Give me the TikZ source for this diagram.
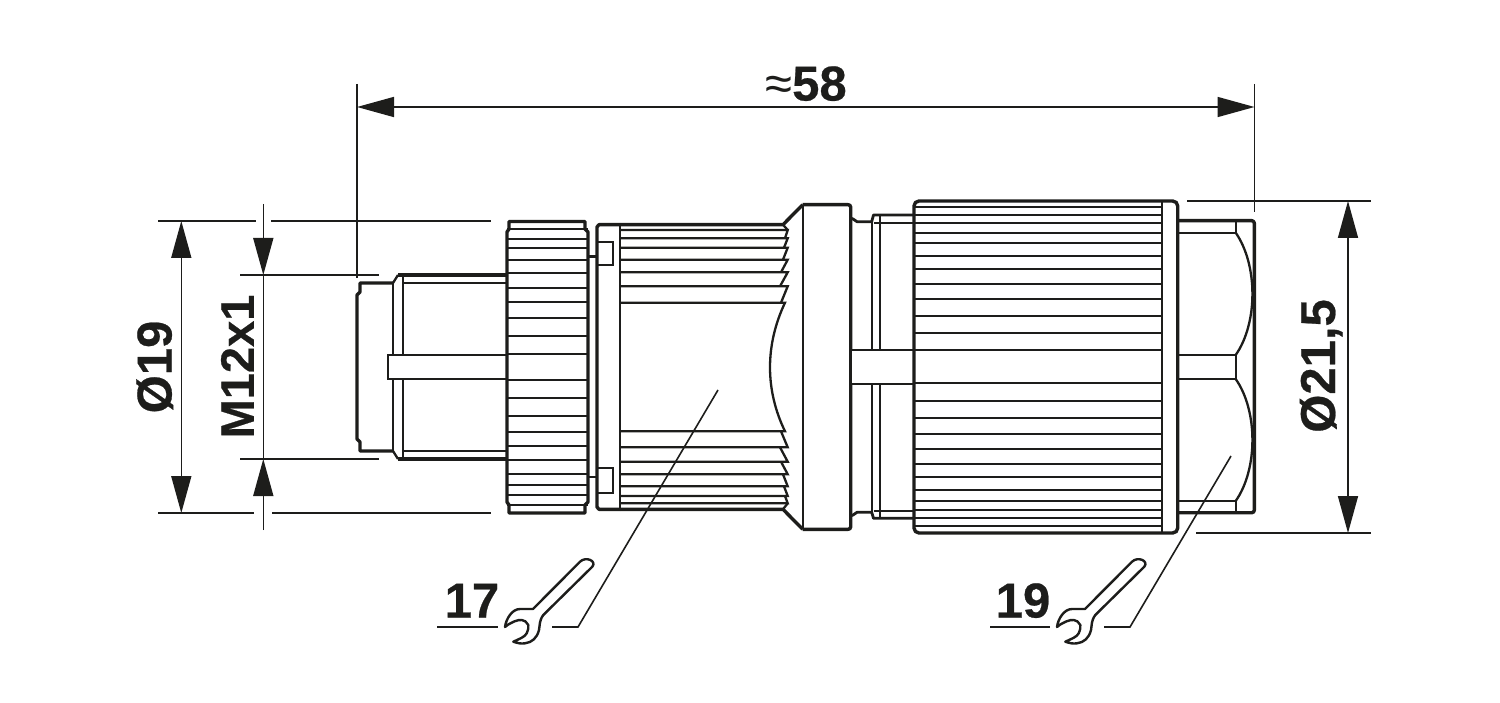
\documentclass[tikz,border=0pt]{standalone}
\usepackage{fontspec}
\setmainfont{Liberation Sans}[BoldFeatures={FakeBold=0.5}]
\usepackage{xcolor}
\usepackage{tikz}
\usetikzlibrary{arrows.meta,calc}
\definecolor{ink}{HTML}{1D1D1B}
\tikzset{
    outline/.style={draw=ink, line width=3.4pt, line join=round},
    ridge/.style={draw=ink, line width=2.3pt},
    dimline/.style={draw=ink, line width=1.6pt},
    dimarrow/.style={dimline, {Triangle[length=37pt,width=20pt,sep=0pt]}-{Triangle[length=37pt,width=20pt,sep=0pt]}},
    endarrow/.style={dimline, -{Triangle[length=37pt,width=20pt,sep=0pt]}},
    dimtext/.style={inner sep=0pt, text=ink, font=\bfseries\fontsize{49}{52}\selectfont, text height=35pt, text depth=0pt},
    wrench/.pic={
        \draw[draw=ink, line width=2.4pt, line join=round]
            (0,0) .. controls (1,-8) and (7,-18) .. (15,-18) -- (28,-18) -- (75,-65.3)
            .. controls (81,-71) and (92,-66) .. (87.3,-60.3) -- (38.3,-12)
            .. controls (34,-6) and (35,-2) .. (34,3)
            .. controls (32,11) and (27,15.5) .. (20,16.3)
            .. controls (16,17) and (12,16) .. (8.3,14.7)
            .. controls (14,12) and (20,10) .. (21.7,6.3)
            .. controls (23,3) and (24,0) .. (23.3,-2)
            .. controls (22,-5) and (19,-7) .. (16.7,-7)
            .. controls (13,-7.5) and (6,-5) .. cycle;
    }
}
\begin{document}
\begin{tikzpicture}[x=1pt, y=-1pt]
    \useasboundingbox (0,0) rectangle (1500,703);

    % plug
    \draw[outline] (398,275) -- (507,275) (398,459) -- (507,459);
    \draw[outline] (393,283) -- (360,283) -- (360,292) -- (357,295) -- (357,439) -- (360,442) -- (360,451) -- (393,451);
    \draw[ridge] (393,283) -- (398,275) (393,451) -- (398,459);
    \draw[ridge] (393,283) -- (393,451) (403,275) -- (403,459);
    \draw[ridge] (403,283) -- (507,283) (403,451) -- (507,451);
    \draw[ridge, fill=white] (507,355) -- (388,355) -- (388,379) -- (507,379);

    % small nut
    \foreach \y in {229,239,248,260,273,288,302,318,336,354,380,398,416,432,446,460,474,485,495,505}
        \draw[ridge] (507,\y) -- (588,\y);
    \draw[outline] (509,229) -- (509,221.5) -- (585,221.5) -- (585,229) -- (588,232) -- (588,502)
        -- (585,505) -- (585,513) -- (509,513) -- (509,505) -- (507,502) -- (507,232) -- cycle;

    % ring with its tabs
    \draw[outline] (620,224.7) -- (599,224.7) -- (597,227) -- (597,507) -- (599,509.3) -- (620,509.3);
    \draw[ridge] (597,241.7) rectangle (612.7,265.3) (597,468) rectangle (612.7,493);
    \draw[outline, line width=2.6pt] (588,256.7) -- (597,256.7) (588,477) -- (597,477);

    % threaded sleeve
    \draw[ridge] (620,224.7) -- (620,509.3);
    \foreach \y/\yb/\xr in {230/238.3/785,238.3/247.7/784,247.7/259.7/783,259.7/272.3/781,272.3/286.3/780,286.3/302.7/781}{
        \draw[ridge] (620,\y) -- (787.7,\y) -- (\xr,\yb);
    }
    \draw[ridge] (620,302.7) -- (785,302.7) .. controls (765,345) and (765,390) .. (785,431.3) -- (620,431.3);
    \foreach \y/\yb/\xr in {431.3/447.3/781,447.3/461.7/780,461.7/474.3/781,474.3/486.3/783,486.3/496/784,496/503.3/785}{
        \draw[ridge] (\xr,\y) -- (787.7,\yb) -- (620,\yb);
    }
    \draw[outline] (620,224.7) -- (783,224.7) -- (802.7,204.7) (620,509.3) -- (783,509.3) -- (802.7,529.3);
    \draw[ridge] (783,224.7) -- (787.7,230) (783,509.3) -- (787.7,503.3);

    % collar
    \draw[outline, rounded corners=2.5pt] (802.7,204.7) -- (850.7,204.7) -- (850.7,529.3) -- (802.7,529.3);
    \draw[ridge] (802.7,204.7) -- (802.7,529.3);

    % neck
    \draw[outline, line width=2.8pt] (850.7,218) -- (853,219) -- (857,221.7) -- (871.7,221.7) -- (873.5,215) -- (914,215);
    \draw[outline, line width=2.8pt] (850.7,516) -- (853,515) -- (857,512.3) -- (871.7,512.3) -- (873.5,518.3) -- (914,518.3);
    \draw[ridge] (871.7,221.7) -- (871.7,512.3) (880,215) -- (880,518.3);
    \draw[ridge] (873.5,223.3) -- (914,223.3) (873.5,510.7) -- (914,510.7);
    \fill[white] (851.5,350) rectangle (914,384);
    \draw[ridge] (850.7,350) -- (914,350) (850.7,384) -- (914,384);

    % big nut
    \foreach \y in {206.7,215.3,223.3,232.7,243.3,256,269.3,284.3,299.3,316,332.7,350,383.3,401,417.7,434,449.3,464,477.3,490,501,510,518.3,526}
        \draw[ridge] (914,\y) -- (1161.7,\y);
    \draw[outline, rounded corners=5pt] (914,201) rectangle (1177.7,533);
    \draw[ridge] (1161.7,201) -- (1161.7,533);

    % hexagon
    \draw[outline, rounded corners=2.5pt] (1177.7,220.7) -- (1254.3,220.7) -- (1254.3,512.7) -- (1177.7,512.7);
    \draw[ridge] (1177.7,232.7) -- (1235.7,232.7) -- (1235.7,220.7);
    \draw[ridge] (1177.7,355) -- (1235.7,355) -- (1235.7,379) -- (1177.7,379);
    \draw[ridge] (1177.7,501) -- (1235.7,501) -- (1235.7,512.7);
    \draw[ridge] (1235.7,232.7) .. controls (1258,265) and (1258,323) .. (1235.7,355);
    \draw[ridge] (1235.7,379) .. controls (1258,411) and (1258,469) .. (1235.7,501);

    % length dimension
    \coordinate (lenL) at (357,107);
    \coordinate (lenR) at (1254.5,107);
    \draw[dimline] (357,84) -- (357,278) (1254.5,84) -- (1254.5,212);
    \draw[dimarrow] (lenL) -- (lenR);
    \node[dimtext] (lenText) at (806,83) {{\mdseries ≈}58};

    % diameter 21,5
    \coordinate (bigT) at (1348,201);
    \coordinate (bigB) at (1348,533);
    \draw[dimline] (1187,201) -- (1371,201) (1196,533) -- (1371,533);
    \draw[dimarrow] (bigT) -- (bigB);
    \node[dimtext, rotate=90] (bigText) at (1317.5,366) {Ø21,5};

    % diameter 19
    \coordinate (nutT) at (181.3,221);
    \coordinate (nutB) at (181.3,513);
    \draw[dimline] (158,221) -- (256,221) (271,221) -- (491,221) (158,513) -- (254,513) (272,513) -- (491,513);
    \draw[dimarrow] (nutT) -- (nutB);
    \node[dimtext, rotate=90] (nutText) at (154,367) {Ø19};

    % thread
    \coordinate (thrT) at (263.3,275);
    \coordinate (thrB) at (263.3,459);
    \coordinate (thrA) at (263.3,204);
    \coordinate (thrZ) at (263.3,530);
    \draw[dimline] (240,275) -- (379,275) (240,459) -- (379,459);
    \draw[dimline] (thrT) -- (thrB);
    \draw[endarrow] (thrA) -- (thrT);
    \draw[endarrow] (thrZ) -- (thrB);
    \node[dimtext, rotate=90, font=\bfseries\fontsize{47}{50}\selectfont] (thrText) at (236.3,366.5) {M12x1};

    % wrench sizes
    \coordinate (sleeveEnd) at (718,390);
    \coordinate (sleeveBend) at (578,627);
    \coordinate (sleeveTail) at (552,627);
    \draw[dimline] (sleeveEnd) -- (sleeveBend) -- (sleeveTail);
    \draw[dimline] (437,627) -- (498,627);
    \node[dimtext] (sleeveText) at (472,600) {17};
    \pic at (505,627) {wrench};

    \coordinate (hexEnd) at (1231,456);
    \coordinate (hexBend) at (1130,627);
    \coordinate (hexTail) at (1104,627);
    \draw[dimline] (hexEnd) -- (hexBend) -- (hexTail);
    \draw[dimline] (990,627) -- (1050,627);
    \node[dimtext] (hexText) at (1023,600) {19};
    \pic at (1057,627) {wrench};
\end{tikzpicture}
\end{document}
